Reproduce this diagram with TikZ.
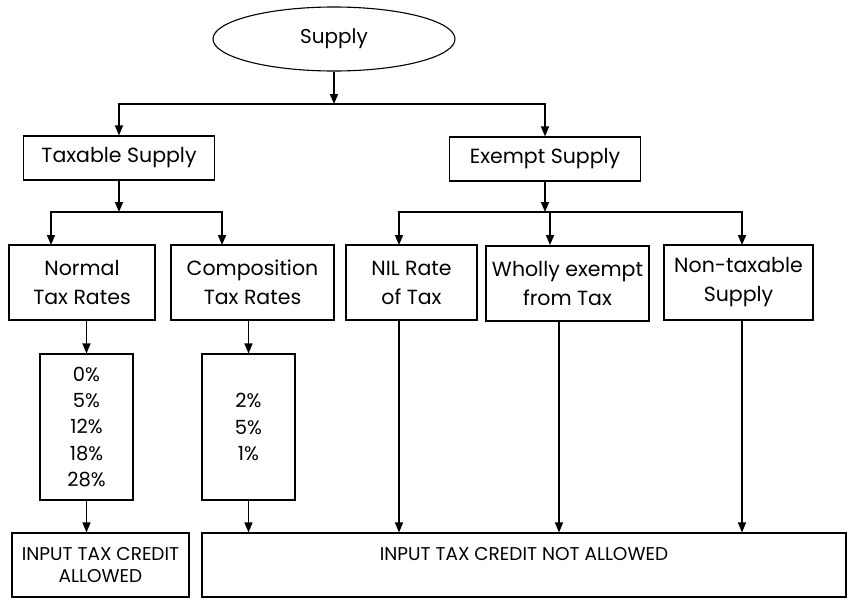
\documentclass[tikz,border=0pt]{standalone}
\usepackage{fontspec}
\setmainfont{Poppins}
\usetikzlibrary{arrows.meta,shapes.geometric}
\begin{document}
\begin{tikzpicture}[x=1pt,y=-1pt,
  box/.style={draw,line width=1.1pt,rectangle,inner sep=0pt,align=center,font=\fontsize{20.5}{29}\selectfont},
  rate/.style={box,font=\fontsize{19.5}{26.3}\selectfont},
  itc/.style={box,font=\fontsize{18.5}{22}\selectfont},
  conn/.style={line width=1.5pt},
  arr/.style={conn,-{Triangle[length=10pt,width=8pt]}}]
\useasboundingbox (0,0) rectangle (849,603);
% nodes
\node[draw,ellipse,line width=1.1pt,minimum width=242pt,minimum height=64pt,inner sep=0pt,font=\fontsize{20}{24}\selectfont] (supply) at (334,39) {Supply};
\node[box,minimum width=191pt,minimum height=44pt] (tax) at (119,158) {Taxable Supply};
\node[box,minimum width=191pt,minimum height=44pt] (exempt) at (545,159) {Exempt Supply};
\node[box,minimum width=146pt,minimum height=75pt] (normal) at (82,282.5) {Normal\\Tax Rates};
\node[box,minimum width=163pt,minimum height=75pt] (comp) at (252.5,282.5) {Composition\\Tax Rates};
\node[box,minimum width=131pt,minimum height=75pt] (nil) at (411.5,282.5) {NIL Rate\\of Tax};
\node[box,minimum width=163pt,minimum height=75pt] (wholly) at (567.5,283.5) {Wholly exempt\\from Tax};
\node[box,minimum width=149pt,minimum height=75pt] (nontax) at (738.5,282.5) {Non-taxable\\Supply};
\node[rate,minimum width=93pt,minimum height=146pt] (rates) at (86.5,427) {0\%\\5\%\\12\%\\18\%\\28\%};
\node[rate,minimum width=93pt,minimum height=146pt] (crates) at (248.5,427) {2\%\\5\%\\1\%};
\node[itc,minimum width=177pt,minimum height=64pt] (itcA) at (100.5,565) {INPUT TAX CREDIT\\ALLOWED};
\node[itc,minimum width=644pt,minimum height=64pt] (itcN) at (524,565) {INPUT TAX CREDIT NOT ALLOWED\\\mbox{}};
% junctions and arrow positions
\coordinate (j1) at (334,104);
\coordinate (j2) at (119,212);
\coordinate (j3) at (545,212);
\coordinate (nA) at (51,245);
\coordinate (cA) at (222,245);
\coordinate (nilA) at (399,245);
\coordinate (wA) at (550,245);
\coordinate (ntA) at (742,245);
\coordinate (wB) at (559,321);
% connectors
\draw[arr] (supply.south) -- (j1);
\draw[arr] (j1) -| (tax.north);
\draw[arr] (j1) -| (exempt.north);
\draw[arr] (tax.south) -- (j2);
\draw[arr] (j2) -| (nA);
\draw[arr] (j2) -| (cA);
\draw[arr] (exempt.south) -- (j3);
\draw[arr] (j3) -| (nilA);
\draw[arr] (j3) -| (ntA);
\draw[arr] (wA |- j3) -- (wA);
\draw[arr] (rates.north |- normal.south) -- (rates.north);
\draw[arr] (crates.north |- comp.south) -- (crates.north);
\draw[arr] (rates.south) -- (rates.south |- itcA.north);
\draw[arr] (crates.south) -- (crates.south |- itcN.north);
\draw[arr] (nilA |- nil.south) -- (nilA |- itcN.north);
\draw[arr] (wB) -- (wB |- itcN.north);
\draw[arr] (ntA |- nontax.south) -- (ntA |- itcN.north);
\end{tikzpicture}
\end{document}
